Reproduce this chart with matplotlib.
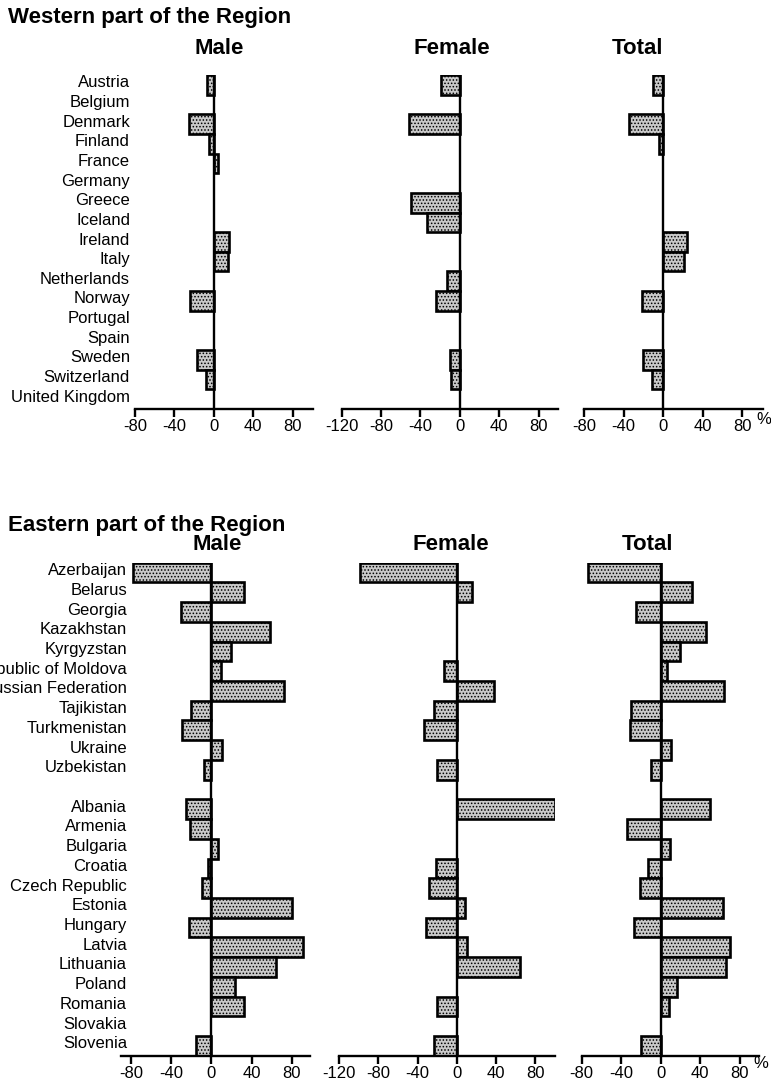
import matplotlib
matplotlib.use("Agg")
import matplotlib.pyplot as plt
from matplotlib.transforms import blended_transform_factory

plt.rcParams['font.family'] = ['Liberation Sans', 'DejaVu Sans']
plt.rcParams['hatch.linewidth'] = 0.7
plt.rcParams['hatch.color'] = '#1a1a1a'

# ---- data: percentage change by country ----
west_countries = ["Austria", "Belgium", "Denmark", "Finland", "France", "Germany",
                  "Greece", "Iceland", "Ireland", "Italy", "Netherlands", "Norway",
                  "Portugal", "Spain", "Sweden", "Switzerland", "United Kingdom"]
west_male = [-7, 0, -25, -5, 4, 0, 0, 0, 15, 14, 0, -24, 0, 0, -17, -8, 0]
west_female = [-19, 0, -52, 0, 0, 0, -50, -33, 0, 0, -13, -24, 0, 0, -10, -9, 0]
west_total = [-10, 0, -35, -4, 0, 0, 0, 0, 24, 21, 0, -21, 0, 0, -20, -11, 0]

east_countries = ["Azerbaijan", "Belarus", "Georgia", "Kazakhstan", "Kyrgyzstan",
                  "Republic of Moldova", "Russian Federation", "Tajikistan",
                  "Turkmenistan", "Ukraine", "Uzbekistan", "",
                  "Albania", "Armenia", "Bulgaria", "Croatia", "Czech Republic",
                  "Estonia", "Hungary", "Latvia", "Lithuania", "Poland", "Romania",
                  "Slovakia", "Slovenia"]
east_male = [-78, 32, -30, 58, 20, 10, 72, -20, -29, 11, -7, 0,
             -25, -21, 7, -3, -9, 80, -22, 91, 64, 24, 32, 0, -15]
east_female = [-99, 15, 0, 0, 0, -13, 38, -23, -33, 0, -20, 0,
               100, 0, 0, -21, -28, 8, -31, 10, 64, 0, -20, 0, -23]
east_total = [-74, 32, -25, 46, 20, 6, 64, -30, -31, 10, -10, 0,
              50, -34, 9, -13, -21, 63, -27, 70, 66, 17, 8, 0, -20]

panel_titles = ["Male", "Female", "Total"]
tick_values = [-120, -80, -40, 0, 40, 80]

W, H = 771, 1082
fig = plt.figure(figsize=(W / 100, H / 100), dpi=100)


def px_axes(x0, x1, ytop, ybot):
    return fig.add_axes([x0 / W, 1 - ybot / H, (x1 - x0) / W, (ybot - ytop) / H])


def draw_panel(ax, values, xlim, nrows):
    rows = [i for i, v in enumerate(values) if v]
    vals = [values[i] for i in rows]
    ax.barh(rows, vals, height=1.0, left=0, color='#c9c9c9', hatch='.....',
            edgecolor='black', linewidth=1.9, zorder=2)
    ax.axvline(0, color='black', linewidth=1.7, zorder=3)
    ax.set_xlim(*xlim)
    ax.set_ylim(nrows - 0.5, -0.5)
    for s in ('top', 'right', 'left'):
        ax.spines[s].set_visible(False)
    ax.spines['bottom'].set_linewidth(1.7)
    ax.set_yticks([])
    ticks = [t for t in tick_values if xlim[0] <= t <= xlim[1]]
    ax.set_xticks(ticks)
    ax.set_xticklabels([str(t) for t in ticks], fontsize=12)
    ax.tick_params(axis='x', direction='out', length=6, width=1.7, pad=1.5)


def draw_block(title, title_y, countries, series, ytop, ybot, xspans, xlims,
               sub_y, sub_x, label_x, pct_xy):
    fig.text(8 / W, 1 - title_y / H, title, fontsize=16, fontweight='bold',
             ha='left', va='center')
    n = len(countries)
    axes = []
    for vals, (x0, x1), xl in zip(series, xspans, xlims):
        ax = px_axes(x0, x1, ytop, ybot)
        draw_panel(ax, vals, xl, n)
        axes.append(ax)
    for name, sx in zip(panel_titles, sub_x):
        fig.text(sx / W, 1 - sub_y / H, name, fontsize=16, fontweight='bold',
                 ha='center', va='center')
    tr = blended_transform_factory(fig.transFigure, axes[0].transData)
    for i, c in enumerate(countries):
        axes[0].text(label_x / W, i - 0.1, c, transform=tr, ha='right',
                     va='center', fontsize=12, clip_on=False)
    fig.text(pct_xy[0] / W, 1 - pct_xy[1] / H, '%', fontsize=12,
             ha='center', va='center')


draw_block("Western part of the Region", 18, west_countries,
           [west_male, west_female, west_total], 75, 409,
           [(135, 313.3), (341.7, 558.3), (584, 763)],
           [(-80, 101), (-120, 100), (-80, 101)],
           49, [219, 452, 638], 130, (764, 419))

draw_block("Eastern part of the Region", 525, east_countries,
           [east_male, east_female, east_total], 562.7, 1055.7,
           [(120.7, 310), (339, 555), (581.7, 759.3)],
           [(-90, 98), (-120, 100), (-80, 100)],
           545, [217, 451, 647], 127, (761, 1063))

fig.savefig("out.png", dpi=100)
